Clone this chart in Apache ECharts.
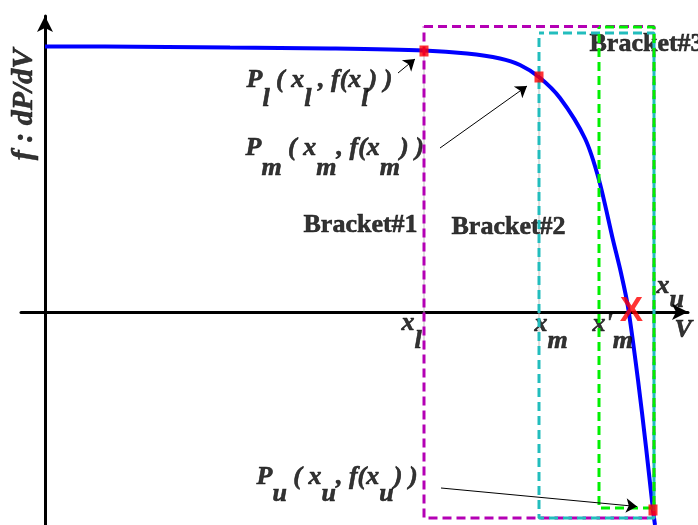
<!DOCTYPE html>
<html>
<head>
<meta charset="utf-8">
<script src="https://cdn.jsdelivr.net/npm/echarts@6/dist/echarts.min.js"></script>
<style>
  html, body { margin: 0; padding: 0; background: #ffffff; }
  #chart { width: 698px; height: 525px; }
</style>
</head>
<body>
<div id="chart"></div>
<script>
// Characteristic f = dP/dV against V (schematic units), bracketing of its root.
const curveV = [0, 6, 18.5, 28.5, 37.9, 42.2, 45.5, 47.5, 49.4, 51.5, 54.0, 55.4, 56.8, 57.6, 58.3, 59.3, 60.1, 60.8, 61.0];
const curveF = [26.55, 26.55, 26.45, 26.35, 26.15, 25.85, 25.35, 24.7, 23.5, 21.4, 17.35, 13.2, 7.2, 3.9, 0.5, -6.8, -13.5, -19.8, -21.3];

// Bracket rectangles: x-range [left, right], f-range [bottom, top]
const bracketNames = ['Bracket#1', 'Bracket#2', 'Bracket#3'];
const bracketLeft = [37.9, 49.4, 55.4];
const bracketRight = [60.9, 60.9, 60.9];
const bracketTop = [28.55, 27.9, 28.5];
const bracketBottom = [-20.6, -20.6, -19.6];
const bracketColors = ['#B400B4', '#22BDBD', '#00F000'];

// Evaluated points P_l, P_m, P_u
const pointV = [37.9, 49.4, 60.8];
const pointF = [26.1, 23.5, -19.8];

// Root of f (marked with a red X)
const rootV = [58.7];
const rootF = [0];

// Leader arrows from labels to points
const arrowFromV = [35.3, 39.5, 39.6];
const arrowFromF = [23.9, 16.4, -17.6];
const arrowToV = [37.0, 48.2, 59.2];
const arrowToF = [25.3, 22.6, -19.45];

// Text annotations (top-left anchor in data units)
const noteText = [
  '{b|P}{s|l}{b| ( x}{s|l}{b| , f(x}{s|l}{b|) )}',
  '{b|P}{s|m}{b| ( x}{s|m}{b|, f(x}{s|m}{b|) )}',
  '{b|P}{s|u}{b| ( x}{s|u}{b|, f(x}{s|u}{b|) )}',
  '{b|x}{s|l}',
  '{b|x}{s|m}',
  "{b|x'}{s|m}",
  '{b|x}{s|u}',
  '{b|V}',
  '{k|' + bracketNames[0] + '}',
  '{k|' + bracketNames[1] + '}',
  '{k|' + bracketNames[2] + '}'
];
const noteV = [20.2, 20.1, 21.2, 35.7, 49.0, 54.8, 61.2, 63.0, 25.9, 40.7, 54.5];
const noteF = [24.45, 17.65, -15.3, 0.1, 0.0, 0.0, 3.85, -0.6, 9.9, 9.7, 28.0];
const noteShift = [19, 20, 17, 18, 17, 17, 14, 0, 0, 0, 0];

const yTitle = 'f : dP/dV';
const yTitlePos = [-2.0, 20.7];

const SERIF = '"Liberation Serif", "Times New Roman", serif';

function richFor(shift) {
  const base = {
    fontFamily: SERIF, fontSize: 26, fontWeight: 'bold', fontStyle: 'italic', color: '#000000',
    textBorderColor: '#000000', textBorderWidth: 0.6, verticalAlign: 'top'
  };
  return {
    b: base,
    s: Object.assign({}, base, { padding: [shift, 0, 0, 0] }),
    k: Object.assign({}, base, { fontStyle: 'normal' })
  };
}

const series = [];

// thin drop lines under the dashed verticals at x_l and x_m
[0, 1].forEach(function (i) {
  series.push({
    type: 'line', z: 1, silent: true, showSymbol: false,
    data: [[pointV[i], pointF[i]], [pointV[i], -3.8]],
    lineStyle: { color: '#bdbdbd', width: 1 }
  });
});

// f(V) curve
series.push({
  type: 'line', z: 2, silent: true, showSymbol: false, smooth: 0.3,
  data: curveV.map(function (v, i) { return [v, curveF[i]]; }),
  lineStyle: { color: '#0000FF', width: 4 }
});

// bracket rectangles
bracketNames.forEach(function (name, i) {
  const l = bracketLeft[i], r = bracketRight[i], t = bracketTop[i], b = bracketBottom[i];
  series.push({
    type: 'line', name: name, z: 3, silent: true, showSymbol: false,
    data: [[l, t], [r, t], [r, b], [l, b], [l, t]],
    lineStyle: { color: bracketColors[i], width: 3, type: [9, 5], dashOffset: i * 4 }
  });
});

// evaluated points
series.push({
  type: 'scatter', z: 5, silent: true,
  symbol: 'rect', symbolSize: [9, 11],
  itemStyle: { color: '#FF0000' },
  data: pointV.map(function (v, i) { return [v, pointF[i]]; })
});

// leader arrows
series.push({
  type: 'lines', coordinateSystem: 'cartesian2d', z: 5, silent: true,
  symbol: ['none', 'arrow'], symbolSize: [9, 11],
  lineStyle: { color: '#000', width: 1, opacity: 1, curveness: 0 },
  data: arrowFromV.map(function (v, i) {
    return { coords: [[v, arrowFromF[i]], [arrowToV[i], arrowToF[i]]] };
  })
});

// text annotations
series.push({
  type: 'scatter', z: 2, silent: true,
  symbol: 'circle', symbolSize: 1,
  itemStyle: { color: 'rgba(0,0,0,0)' },
  data: noteText.map(function (txt, i) {
    return {
      value: [noteV[i], noteF[i]],
      label: {
        show: true, position: [0, 0], align: 'left', verticalAlign: 'top', color: '#000000',
        formatter: txt, rich: richFor(noteShift[i])
      }
    };
  }).concat([{
    value: yTitlePos,
    label: {
      show: true, position: [0, 0], align: 'center', verticalAlign: 'middle', rotate: 90,
      formatter: yTitle, fontFamily: SERIF, fontSize: 30, fontWeight: 'bold', fontStyle: 'italic',
      color: '#000000', textBorderColor: '#000000', textBorderWidth: 0.6
    }
  }])
});

// root marker
series.push({
  type: 'scatter', z: 6, silent: true,
  symbol: 'circle', symbolSize: 1,
  itemStyle: { color: 'rgba(0,0,0,0)' },
  data: rootV.map(function (v, i) {
    return {
      value: [v, rootF[i]],
      label: {
        show: true, position: [0, 0], align: 'center', verticalAlign: 'middle',
        formatter: 'X', fontFamily: '"Liberation Sans", Arial, sans-serif',
        fontSize: 35, fontWeight: 'bold', color: '#FF0000', textBorderWidth: 0
      }
    };
  })
});

const chart = echarts.init(document.getElementById('chart'), null, { renderer: 'canvas' });
chart.setOption({
  animation: false,
  backgroundColor: '#ffffff',
  grid: { left: 21, right: 10, top: 16, bottom: 0, containLabel: false },
  xAxis: {
    type: 'value', min: -2.4, max: 64.3,
    axisLine: { onZero: true, symbol: ['none', 'arrow'], symbolSize: [12, 16], lineStyle: { color: '#000', width: 3 } },
    axisTick: { show: false }, axisLabel: { show: false }, splitLine: { show: false }
  },
  yAxis: {
    type: 'value', min: -21.3, max: 29.6,
    axisLine: { onZero: true, symbol: ['none', 'arrow'], symbolSize: [12, 16], lineStyle: { color: '#000', width: 3 } },
    axisTick: { show: false }, axisLabel: { show: false }, splitLine: { show: false }
  },
  series: series
});
</script>
</body>
</html>
